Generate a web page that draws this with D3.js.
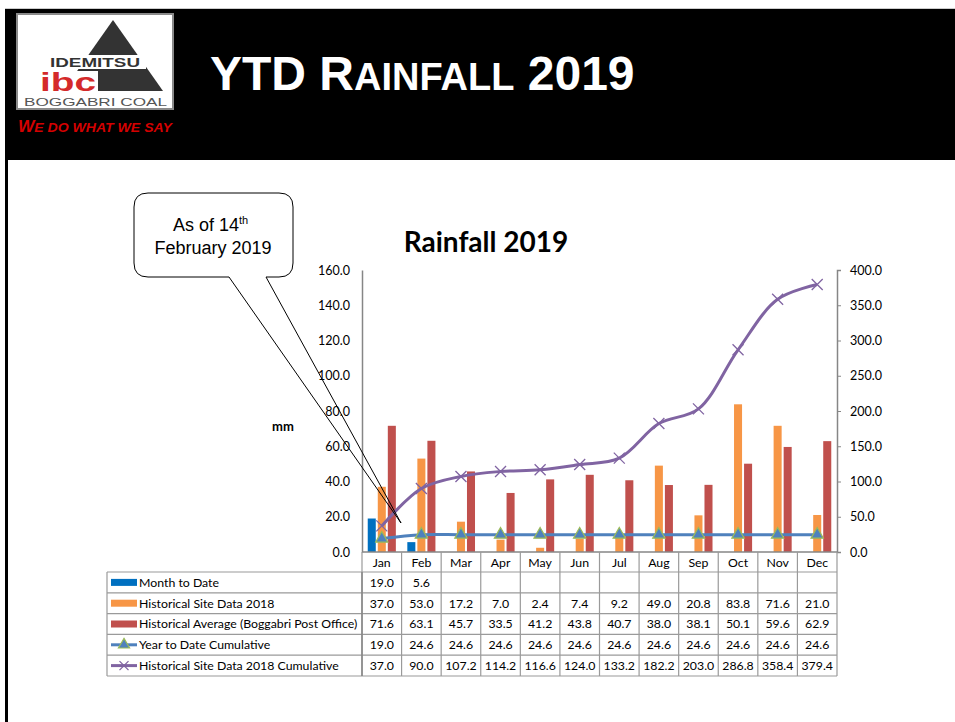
<!DOCTYPE html>
<html>
<head>
<meta charset="utf-8">
<script src="https://cdn.jsdelivr.net/npm/d3@7"></script>
<style>
  body { margin: 0; background: #fff; }
  svg { display: block; font-family: Lato, "Open Sans", sans-serif; }
</style>
</head>
<body>
<div id="chart"></div>
<script>
// data
var months = ["Jan", "Feb", "Mar", "Apr", "May", "Jun", "Jul", "Aug", "Sep", "Oct", "Nov", "Dec"];
var monthToDate = [19.0, 5.6, null, null, null, null, null, null, null, null, null, null];
var siteData2018 = [37.0, 53.0, 17.2, 7.0, 2.4, 7.4, 9.2, 49.0, 20.8, 83.8, 71.6, 21.0];
var historicalAvg = [71.6, 63.1, 45.7, 33.5, 41.2, 43.8, 40.7, 38.0, 38.1, 50.1, 59.6, 62.9];
var ytdCumulative = [19.0, 24.6, 24.6, 24.6, 24.6, 24.6, 24.6, 24.6, 24.6, 24.6, 24.6, 24.6];
var site2018Cumulative = [37.0, 90.0, 107.2, 114.2, 116.6, 124.0, 133.2, 182.2, 203.0, 286.8, 358.4, 379.4];
var leftTicks = [0, 20, 40, 60, 80, 100, 120, 140, 160];
var rightTicks = [0, 50, 100, 150, 200, 250, 300, 350, 400];

var barSeries = [
  { name: "Month to Date", values: monthToDate, color: "#0070C0" },
  { name: "Historical Site Data 2018", values: siteData2018, color: "#F79646" },
  { name: "Historical Average (Boggabri Post Office)", values: historicalAvg, color: "#C0504D" }
];
var lineSeries = [
  { name: "Year to Date Cumulative", values: ytdCumulative, color: "#4F81BD", marker: "triangle" },
  { name: "Historical Site Data 2018 Cumulative", values: site2018Cumulative, color: "#8064A2", marker: "cross" }
];

var arial = "'Liberation Sans', Arial, sans-serif";
var width = 955, height = 722;
var svg = d3.select("#chart").append("svg")
  .attr("width", width)
  .attr("height", height);

// ---------- page header ----------
svg.append("rect").attr("x", 5).attr("y", 8).attr("width", width - 5).attr("height", 1).attr("fill", "#ccc");
svg.append("rect").attr("x", 5).attr("y", 9).attr("width", width - 5).attr("height", 151).attr("fill", "#000");
svg.append("rect").attr("x", 5).attr("y", 160).attr("width", 3).attr("height", height - 160).attr("fill", "#000");

// logo
var logo = svg.append("g").style("font-family", arial);
logo.append("rect").attr("x", 17).attr("y", 14).attr("width", 156).attr("height", 95)
  .attr("fill", "#fff").attr("stroke", "#8a8a8a").attr("stroke-width", 2);
logo.append("path").attr("d", "M113,20 L163,91 L63,91 Z").attr("fill", "#333");
logo.append("rect").attr("x", 42).attr("y", 55).attr("width", 104).attr("height", 14).attr("fill", "#fff");
logo.append("text").attr("x", 50).attr("y", 67).attr("font-weight", "bold")
  .attr("font-size", 13).attr("fill", "#333").attr("textLength", 90).attr("lengthAdjust", "spacingAndGlyphs").text("IDEMITSU");
logo.append("rect").attr("x", 40).attr("y", 71).attr("width", 58).attr("height", 21).attr("fill", "#fff");
logo.append("text").attr("x", 40).attr("y", 91).attr("font-weight", "bold")
  .attr("font-size", 25).attr("fill", "#d42a2a").attr("textLength", 56).attr("lengthAdjust", "spacingAndGlyphs").text("ibc");
logo.append("text").attr("x", 24).attr("y", 106).attr("font-size", 11.5).attr("fill", "#555")
  .attr("textLength", 143).attr("lengthAdjust", "spacingAndGlyphs").text("BOGGABRI COAL");

var tag = svg.append("text").attr("x", 18).attr("y", 132).style("font-family", arial)
  .attr("font-weight", "bold").attr("font-style", "italic")
  .attr("fill", "#d40000").attr("font-size", 13)
  .attr("textLength", 154).attr("lengthAdjust", "spacingAndGlyphs");
tag.append("tspan").attr("font-size", 16).text("W");
tag.append("tspan").text("E DO WHAT WE SAY");

var title = svg.append("text").attr("x", 210).attr("y", 90).style("font-family", arial)
  .attr("font-weight", "bold").attr("fill", "#fff").attr("font-size", 48);
title.append("tspan").text("YTD R");
title.append("tspan").attr("font-size", 38).text("AINFALL");
title.append("tspan").text(" 2019");

// ---------- chart ----------
var plotLeft = 362, plotRight = 837, plotTop = 270, plotBottom = 552;

var x = d3.scaleBand().domain(months).range([plotLeft, plotRight]).padding(0);
var xInner = d3.scaleBand().domain([0, 1, 2])
  .range([x.bandwidth() * 0.145, x.bandwidth() * 0.855]).paddingInner(0.2);
var yLeft = d3.scaleLinear().domain([0, 160]).range([plotBottom, plotTop]);
var yRight = d3.scaleLinear().domain([0, 400]).range([plotBottom, plotTop]);

svg.append("text").attr("x", 486).attr("y", 252).attr("text-anchor", "middle")
  .attr("font-weight", "bold").attr("font-size", 28).attr("fill", "#000").text("Rainfall 2019");

svg.append("text").attr("x", 283).attr("y", 431).attr("text-anchor", "middle")
  .attr("font-weight", "bold").attr("font-size", 13).attr("fill", "#000").text("mm");

// left axis
var leftAxis = svg.append("g").attr("transform", "translate(" + plotLeft + ",0)")
  .call(d3.axisLeft(yLeft).tickValues(leftTicks).tickSize(0).tickPadding(12).tickFormat(d3.format(".1f")));
leftAxis.select(".domain").attr("stroke", "#868686").attr("stroke-width", 1.5);
leftAxis.selectAll("text").attr("font-size", 12.5).attr("fill", "#000").style("font-family", "Lato, sans-serif");

// right axis
var rightAxis = svg.append("g").attr("transform", "translate(" + plotRight + ",0)")
  .call(d3.axisRight(yRight).tickValues(rightTicks).tickSize(4).tickPadding(9).tickFormat(d3.format(".1f")));
rightAxis.select(".domain").attr("stroke", "#868686").attr("stroke-width", 1.5);
rightAxis.selectAll(".tick line").attr("stroke", "#868686");
rightAxis.selectAll("text").attr("font-size", 12.5).attr("fill", "#000").style("font-family", "Lato, sans-serif");

// bars
barSeries.forEach(function(s, i) {
  svg.append("g").selectAll("rect")
    .data(s.values.map(function(v, j) { return { month: months[j], value: v }; })
      .filter(function(d) { return d.value != null; }))
    .enter().append("rect")
    .attr("x", function(d) { return x(d.month) + xInner(i); })
    .attr("y", function(d) { return yLeft(d.value); })
    .attr("width", xInner.bandwidth())
    .attr("height", function(d) { return yLeft(0) - yLeft(d.value); })
    .attr("fill", s.color);
});

// x axis line
svg.append("line").attr("x1", plotLeft).attr("x2", plotRight).attr("y1", plotBottom).attr("y2", plotBottom)
  .attr("stroke", "#868686").attr("stroke-width", 1.5);

// lines (both on secondary axis)
var line = d3.line()
  .x(function(d, i) { return x(months[i]) + x.bandwidth() / 2; })
  .y(function(d) { return yRight(d); })
  .curve(d3.curveCatmullRom.alpha(0.5));

function drawMarker(g, type, color, size) {
  if (type === "triangle") {
    g.append("path").attr("d", d3.symbol().type(d3.symbolTriangle).size(size * 6)())
      .attr("fill", "#4F81BD").attr("stroke", "#9BBB59").attr("stroke-width", 1.2);
  } else {
    var h = size / 2;
    g.append("path").attr("d", "M" + (-h) + "," + (-h) + "L" + h + "," + h + "M" + (-h) + "," + h + "L" + h + "," + (-h))
      .attr("stroke", color).attr("stroke-width", 1.3).attr("fill", "none");
  }
}

lineSeries.forEach(function(s) {
  svg.append("path").datum(s.values).attr("d", line)
    .attr("fill", "none").attr("stroke", s.color).attr("stroke-width", 3);
  s.values.forEach(function(v, i) {
    var g = svg.append("g").attr("transform", "translate(" + (x(months[i]) + x.bandwidth() / 2) + "," + yRight(v) + ")");
    drawMarker(g, s.marker, s.color, 11);
  });
});

// ---------- data table ----------
var tableLeft = 107, headerBottom = 572, rowH = 20.8;
var rows = barSeries.concat(lineSeries);
var tableBottom = headerBottom + rowH * rows.length;
var tableStroke = "#9a9a9a";

var table = svg.append("g");
months.forEach(function(m) {
  table.append("text").attr("x", x(m) + x.bandwidth() / 2).attr("y", 567)
    .attr("text-anchor", "middle").attr("font-size", 12.3).attr("fill", "#000").text(m);
});
months.forEach(function(m) {
  table.append("line").attr("x1", x(m)).attr("x2", x(m)).attr("y1", plotBottom).attr("y2", tableBottom)
    .attr("stroke", tableStroke).attr("stroke-width", 1.2);
});
table.append("line").attr("x1", plotRight).attr("x2", plotRight).attr("y1", plotBottom).attr("y2", tableBottom)
  .attr("stroke", tableStroke).attr("stroke-width", 1.2);
table.append("line").attr("x1", tableLeft).attr("x2", tableLeft).attr("y1", headerBottom).attr("y2", tableBottom)
  .attr("stroke", tableStroke).attr("stroke-width", 1.2);
d3.range(rows.length + 1).forEach(function(r) {
  var yy = headerBottom + r * rowH;
  table.append("line").attr("x1", tableLeft).attr("x2", plotRight).attr("y1", yy).attr("y2", yy)
    .attr("stroke", tableStroke).attr("stroke-width", 1.2);
});
table.append("line").attr("x1", plotLeft).attr("x2", plotLeft).attr("y1", headerBottom).attr("y2", tableBottom)
  .attr("stroke", "#868686").attr("stroke-width", 1.5);

rows.forEach(function(s, r) {
  var cy = headerBottom + r * rowH + rowH / 2;
  if (s.marker) {
    table.append("line").attr("x1", 111).attr("x2", 137).attr("y1", cy).attr("y2", cy)
      .attr("stroke", s.color).attr("stroke-width", 3);
    var g = table.append("g").attr("transform", "translate(124," + cy + ")");
    drawMarker(g, s.marker, s.color, 9);
  } else {
    table.append("rect").attr("x", 111).attr("y", cy - 3.5).attr("width", 26).attr("height", 7).attr("fill", s.color);
  }
  table.append("text").attr("x", 139).attr("y", cy + 4.3).attr("font-size", 12.3).attr("fill", "#000").text(s.name);
  s.values.forEach(function(v, i) {
    if (v == null) return;
    table.append("text").attr("x", x(months[i]) + x.bandwidth() / 2).attr("y", cy + 4.3)
      .attr("text-anchor", "middle").attr("font-size", 12.3).attr("fill", "#000").text(d3.format(".1f")(v));
  });
});

// ---------- callout ----------
var callout = svg.append("g").style("font-family", arial);
var bx0 = 134, bx1 = 293, by0 = 193, by1 = 277, rr = 14;
var tailL = 229, tailR = 266, tip = [401, 523];
callout.append("path")
  .attr("d",
    "M" + tailR + "," + by1 +
    "L" + (bx1 - rr) + "," + by1 +
    "Q" + bx1 + "," + by1 + " " + bx1 + "," + (by1 - rr) +
    "L" + bx1 + "," + (by0 + rr) +
    "Q" + bx1 + "," + by0 + " " + (bx1 - rr) + "," + by0 +
    "L" + (bx0 + rr) + "," + by0 +
    "Q" + bx0 + "," + by0 + " " + bx0 + "," + (by0 + rr) +
    "L" + bx0 + "," + (by1 - rr) +
    "Q" + bx0 + "," + by1 + " " + (bx0 + rr) + "," + by1 +
    "L" + tailL + "," + by1 +
    "L" + tip[0] + "," + tip[1] + "Z")
  .attr("fill", "none").attr("stroke", "#000").attr("stroke-width", 1);

var c1 = callout.append("text").attr("x", 173).attr("y", 231)
  .attr("font-size", 18).attr("fill", "#000");
c1.append("tspan").text("As of 14");
c1.append("tspan").attr("font-size", 11).attr("dy", -7).text("th");
callout.append("text").attr("x", 213).attr("y", 254).attr("text-anchor", "middle")
  .attr("font-size", 18).attr("fill", "#000").text("February 2019");
</script>
</body>
</html>
